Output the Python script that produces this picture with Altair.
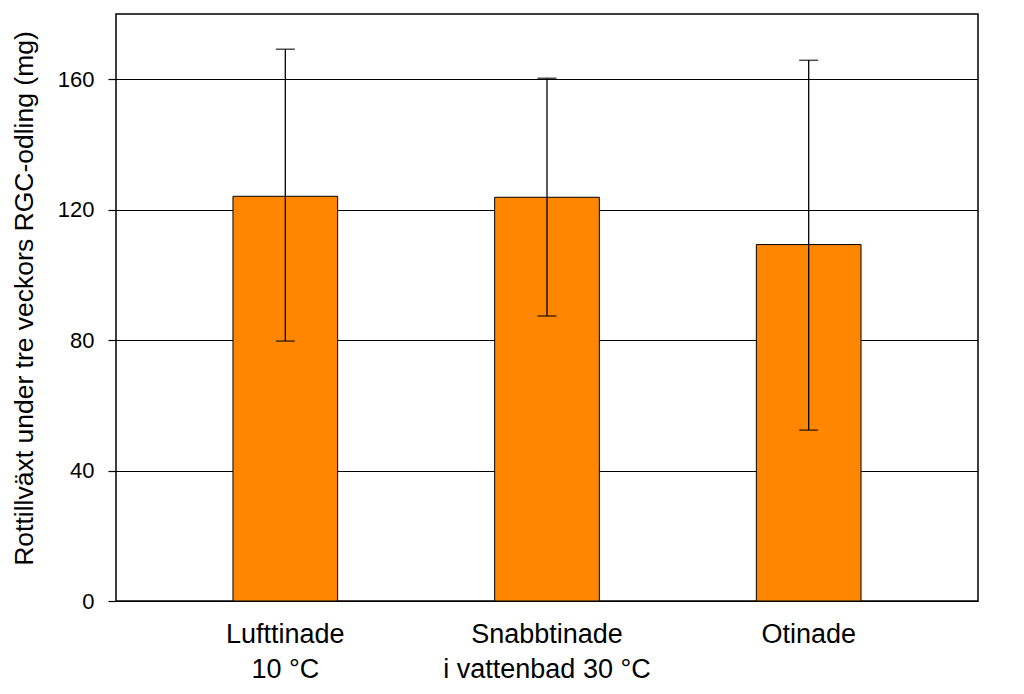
import altair as alt
import pandas as pd

categories = ["Lufttinade|10 °C", "Snabbtinade|i vattenbad 30 °C", "Otinade"]
means = [124.1, 123.8, 109.3]
err_low = [79.7, 87.4, 52.4]
err_high = [169.2, 160.3, 165.8]
y_ticks = [0, 40, 80, 120, 160]

df = pd.DataFrame({"cat": categories, "mean": means, "lo": err_low, "hi": err_high})

FONT = "Liberation Sans"

x = alt.X(
    "cat:N",
    sort=categories,
    title=None,
    scale=alt.Scale(paddingInner=0.6, paddingOuter=0.447),
    axis=alt.Axis(
        labelExpr="split(datum.label, '|')",
        labelAngle=0,
        ticks=False,
        domain=False,
        labelFontSize=27,
        labelLineHeight=35,
        labelPadding=20,
        labelLimit=500,
        labelColor="black",
        labelFont=FONT,
        grid=False,
    ),
)

y_scale = alt.Scale(domain=[0, 180], nice=False)

bars = alt.Chart(df).mark_bar(color="#FF8600", stroke="black", strokeWidth=1).encode(
    x=x,
    y=alt.Y(
        "mean:Q",
        scale=y_scale,
        title="Rottillväxt under tre veckors RGC-odling (mg)",
        axis=alt.Axis(
            values=y_ticks,
            grid=True,
            gridColor="black",
            gridWidth=1.2,
            gridOpacity=1,
            domain=False,
            tickColor="black",
            tickSize=8,
            tickWidth=1.2,
            labelFontSize=22,
            labelColor="black",
            labelFont=FONT,
            labelPadding=14,
            titleFontSize=26.5,
            titleFont=FONT,
            titleFontWeight="normal",
            titleColor="black",
            titleX=-84,
            titleY=284,
            titleAngle=270,
            titleAlign="center",
            titleBaseline="alphabetic",
        ),
    ),
)

rules = alt.Chart(df).mark_rule(color="black", strokeWidth=1.3).encode(
    x=alt.X("cat:N", sort=categories),
    y=alt.Y("lo:Q", scale=y_scale),
    y2="hi:Q",
)

caps_lo = alt.Chart(df).mark_tick(color="black", size=19, thickness=1.5, orient="horizontal").encode(
    x=alt.X("cat:N", sort=categories),
    y=alt.Y("lo:Q", scale=y_scale),
)
caps_hi = alt.Chart(df).mark_tick(color="black", size=19, thickness=1.5, orient="horizontal").encode(
    x=alt.X("cat:N", sort=categories),
    y=alt.Y("hi:Q", scale=y_scale),
)

chart = (
    alt.layer(bars, rules, caps_lo, caps_hi)
    .properties(
        width=862,
        height=587,
        autosize=alt.AutoSizeParams(type="none"),
        padding={"left": 108, "top": 6, "right": 30, "bottom": 84},
        background="white",
    )
    .configure_view(stroke="black", strokeWidth=1.5)
)

chart.save("out.html", embed_options={"renderer": "svg", "actions": False})
